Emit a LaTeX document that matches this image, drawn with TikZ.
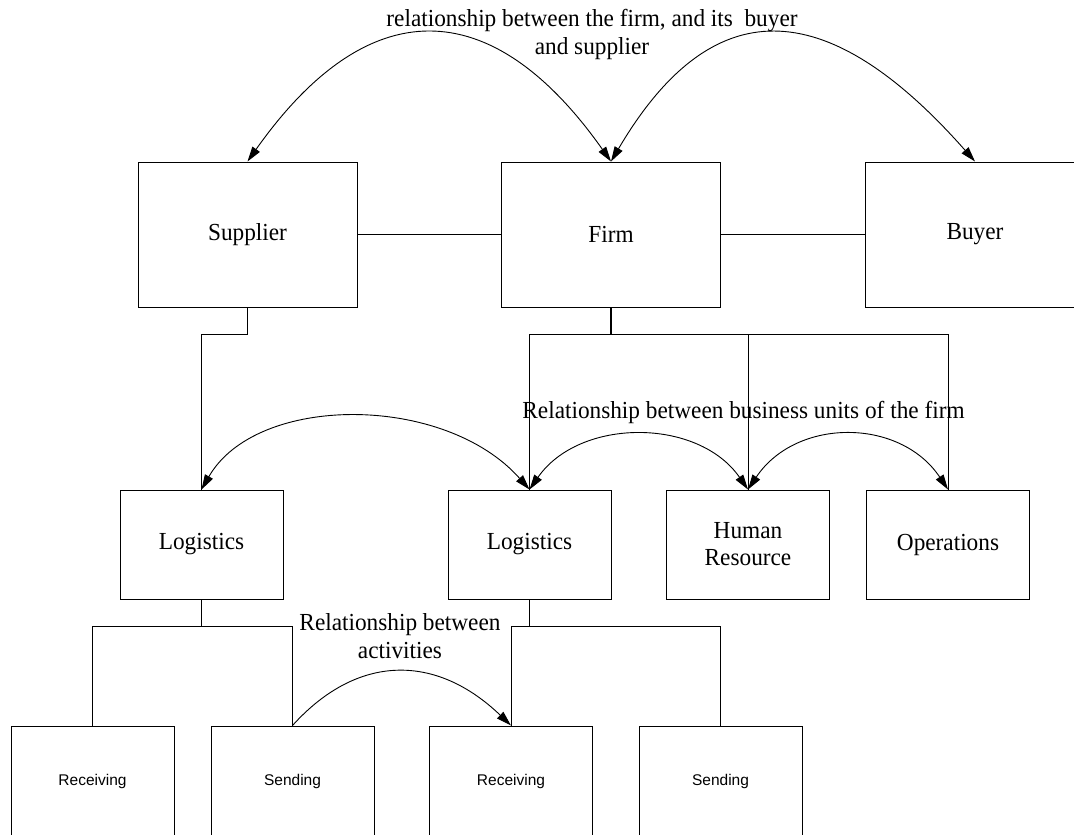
\documentclass[tikz,border=0pt]{standalone}
\usepackage{fontspec}
\setmainfont{Liberation Serif}[FakeStretch=0.95]
\newfontfamily\arialfont{Liberation Sans}
\usetikzlibrary{arrows.meta}
\begin{document}
\begin{tikzpicture}[x=1pt,y=-1pt,
  box/.style={draw, line width=1pt, inner sep=0pt, align=center, font=\fontsize{24.5}{27}\selectfont},
  bigbox/.style={box, minimum width=219pt, minimum height=145pt},
  midbox/.style={box, minimum width=163pt, minimum height=109pt},
  lowbox/.style={box, minimum width=163pt, minimum height=111pt, font=\arialfont\fontsize{15.5}{18}\selectfont},
  conn/.style={line width=1pt},
  stem/.style={line width=2pt},
  rel/.style={line width=0.9pt, {Triangle[length=15pt,width=9pt]}-{Triangle[length=15pt,width=9pt]}},
  relone/.style={line width=0.9pt, -{Triangle[length=15pt,width=9pt]}},
  lbl/.style={font=\fontsize{24.5}{27}\selectfont, anchor=base, inner sep=0pt}
]
\useasboundingbox (0,0) rectangle (1074,835);
\fill[white] (0,0) rectangle (1074,835);
\clip (0,0) rectangle (1074,835);

% top row
\node[bigbox] (sup) at (247.5,234.5) {Supplier};
\node[bigbox] (firm) at (611,234.5) {Firm};
\node[bigbox] (buy) at (975,234.5) {Buyer};

% middle row
\node[midbox] (log1) at (201.5,544.5) {Logistics};
\node[midbox] (log2) at (529.5,544.5) {Logistics};
\node[midbox] (hr) at (748,544.5) {Human\\Resource};
\node[midbox] (ops) at (948,544.5) {Operations};

% bottom row
\node[lowbox] (rec1) at (92.5,781.5) {Receiving};
\node[lowbox] (send1) at (292.5,781.5) {Sending};
\node[lowbox] (rec2) at (511,781.5) {Receiving};
\node[lowbox] (send2) at (720.5,781.5) {Sending};

% horizontal links
\draw[conn] (sup) -- (firm);
\draw[conn] (firm) -- (buy);

% tree connectors
\draw[conn] (sup.south) -- ++(0,27) -| (log1.north);
\draw[stem] (firm.south) -- ++(0,27) coordinate (fj);
\draw[conn] (log2.north) |- (ops.north |- fj) -- (ops.north);
\draw[conn] (hr.north) -- (hr.north |- fj);

\draw[conn] (log1.south) -- ++(0,27) coordinate (l1j);
\draw[conn] (rec1.north) |- (send1.north |- l1j) -- (send1.north);
\draw[conn] (log2.south) -- ++(0,27) coordinate (l2j);
\draw[conn] (rec2.north) |- (send2.north |- l2j) -- (send2.north);

% relationship arcs
\draw[rel] (sup.north) .. controls +(120,-170) and +(-120,-170) .. (firm.north);
\draw[rel] (firm.north) .. controls +(100,-170) and +(-150,-170) .. (buy.north);
\draw[rel] (log1.north) .. controls +(55,-96) and +(-85,-96) .. (log2.north);
\draw[rel] (log2.north) .. controls +(50,-72) and +(-50,-72) .. (hr.north);
\draw[rel] (hr.north) .. controls +(48,-72) and +(-48,-72) .. (ops.north);
\draw[relone] (send1.north) .. controls +(65,-72) and +(-75,-72) .. (rec2.north);

% labels
\node[lbl] (t1) at (592,27) {relationship between the firm, and its\ \ buyer};
\node[lbl] (t2) at (592,54) {and supplier};
\node[lbl] (t3) at (743.5,418) {Relationship between business units of the firm};
\node[lbl] (t4) at (400,630) {Relationship between};
\node[lbl] (t5) at (400,658) {activities};
\end{tikzpicture}
\end{document}
